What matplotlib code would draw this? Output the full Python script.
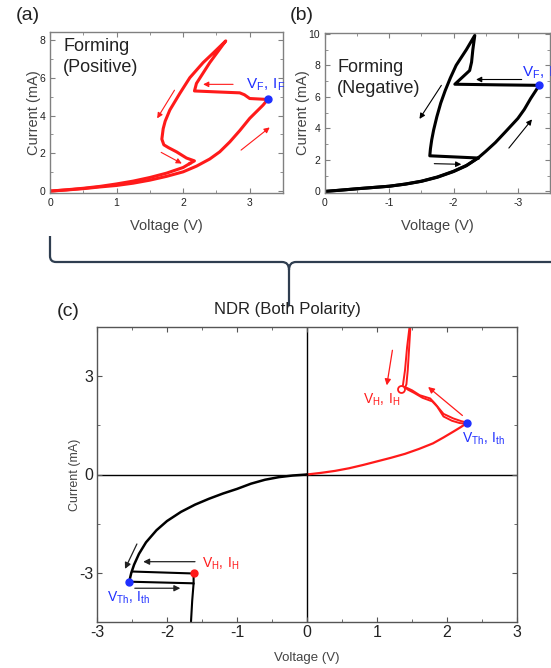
import matplotlib
matplotlib.use("Agg")
import matplotlib.pyplot as plt
from matplotlib.path import Path
from matplotlib.patches import PathPatch
from matplotlib.ticker import MultipleLocator

plt.rcParams['font.family'] = ['Liberation Sans', 'DejaVu Sans']
plt.rcParams['mathtext.fontset'] = 'custom'
plt.rcParams['mathtext.rm'] = 'Liberation Sans'
plt.rcParams['mathtext.it'] = 'Liberation Sans'
plt.rcParams['axes.unicode_minus'] = False

# ---------------- data: panel (a) Forming positive ----------------
a_fwd_v = [0, 0.25, 0.5, 0.75, 1.0, 1.25, 1.5, 1.75, 2.0, 2.2, 2.4, 2.55, 2.7, 2.85, 3.0, 3.1, 3.2, 3.27]
a_fwd_i = [0, 0.06, 0.13, 0.22, 0.3, 0.42, 0.58, 0.78, 1.02, 1.32, 1.7, 2.08, 2.6, 3.2, 3.85, 4.2, 4.55, 4.85]
a_snap_v = [3.27, 3.0, 2.92, 2.85, 2.5, 2.17, 2.2, 2.4, 2.64, 2.45, 2.3, 2.1, 1.95, 1.8, 1.73, 1.70, 1.68,
            1.71, 1.78, 1.90, 2.05, 2.17, 2.10]
a_snap_i = [4.85, 4.9, 5.1, 5.2, 5.25, 5.3, 5.7, 6.8, 7.95, 7.3, 6.8, 6.0, 5.17, 4.29, 3.7, 3.3, 2.75,
            2.45, 2.3, 2.08, 1.75, 1.6, 1.46]
a_ret_v = [2.10, 2.0, 1.75, 1.5, 1.25, 1.0, 0.75, 0.5, 0.25, 0]
a_ret_i = [1.46, 1.25, 0.95, 0.72, 0.53, 0.38, 0.25, 0.15, 0.07, 0]
a_arrows = [((1.87, 5.34), (1.61, 3.85)), ((1.67, 2.05), (1.98, 1.46)),
            ((2.87, 2.17), (3.30, 3.37)), ((2.75, 5.65), (2.30, 5.65))]
a_vf = (3.27, 4.85)

# ---------------- data: panel (b) Forming negative ----------------
b_fwd_v = [0, -0.25, -0.5, -0.75, -1.0, -1.25, -1.5, -1.75, -2.0, -2.2, -2.38, -2.5, -2.65, -2.8,
           -3.0, -3.1, -3.2, -3.28, -3.33]
b_fwd_i = [0, 0.08, 0.17, 0.25, 0.33, 0.47, 0.65, 0.92, 1.28, 1.65, 2.12, 2.54, 3.1, 3.75,
           4.63, 5.2, 5.9, 6.4, 6.73]
b_snap_v = [-3.33, -2.7, -2.02, -2.25, -2.28, -2.30, -2.33, -2.2, -2.04, -1.95, -1.87, -1.80, -1.74,
            -1.69, -1.66, -1.64, -1.63, -2.38]
b_snap_i = [6.73, 6.76, 6.8, 7.67, 8.2, 9.0, 9.9, 9.0, 8.0, 7.2, 6.4, 5.6, 4.74,
            3.9, 3.27, 2.7, 2.26, 2.12]
b_ret_v = [-2.38, -2.2, -2.0, -1.75, -1.5, -1.25, -1.0, -0.5, 0]
b_ret_i = [2.12, 1.63, 1.26, 0.9, 0.64, 0.46, 0.33, 0.17, 0]
b_arrows = [((-1.81, 6.73), (-1.47, 4.6)), ((-1.70, 1.76), (-2.12, 1.72)),
            ((-2.86, 2.75), (-3.22, 4.57)), ((-3.06, 7.1), (-2.35, 7.1))]
b_vf = (-3.33, 6.73)

# ---------------- data: panel (c) NDR ----------------
c_pos_fwd_v = [0, 0.2, 0.4, 0.6, 0.8, 1.0, 1.2, 1.4, 1.6, 1.8, 1.95, 2.1, 2.2, 2.29]
c_pos_fwd_i = [0, 0.05, 0.11, 0.19, 0.29, 0.4, 0.51, 0.63, 0.78, 0.95, 1.13, 1.32, 1.45, 1.58]
c_pos_ndr1_v = [2.29, 2.2, 2.09, 1.95, 1.83, 1.76, 1.61, 1.5, 1.40, 1.34, 1.37, 1.40, 1.43, 1.47]
c_pos_ndr1_i = [1.58, 1.63, 1.71, 1.85, 2.16, 2.32, 2.42, 2.57, 2.67, 2.62, 2.72, 3.18, 3.89, 4.6]
c_pos_ndr2_v = [2.27, 2.18, 2.07, 1.95, 1.86, 1.79, 1.65, 1.53, 1.44, 1.40, 1.42, 1.44, 1.46, 1.48]
c_pos_ndr2_i = [1.55, 1.57, 1.64, 1.77, 2.07, 2.23, 2.34, 2.49, 2.59, 2.66, 2.75, 3.2, 3.9, 4.6]
c_neg_fwd_v = [0, -0.2, -0.4, -0.6, -0.8, -1.0, -1.2, -1.4, -1.6, -1.8, -2.0, -2.15, -2.3, -2.4,
               -2.47, -2.51, -2.54]
c_neg_fwd_i = [0, -0.03, -0.08, -0.16, -0.28, -0.44, -0.58, -0.74, -0.92, -1.14, -1.42, -1.7, -2.07,
               -2.42, -2.75, -3.0, -3.27]
c_neg_snap_v = [-2.54, -1.62, -1.64, -1.66]
c_neg_snap_i = [-3.27, -3.32, -3.85, -4.6]
c_neg_hold_v = [-1.62, -1.62, -2.50]
c_neg_hold_i = [-3.32, -3.02, -2.96]
c_pos_vth = (2.29, 1.58)
c_pos_vh = (1.34, 2.62)
c_neg_vth = (-2.54, -3.27)
c_neg_vh = (-1.62, -3.02)
c_red_arrows = [((1.22, 3.79), (1.14, 2.72)), ((2.22, 1.80), (1.73, 2.67))]
c_blk_arrows = [((-2.43, -2.12), (-2.6, -2.88)), ((-1.60, -2.66), (-2.34, -2.66)),
                ((-2.46, -3.47), (-1.81, -3.47))]

RED = '#ff1a1a'
BLUE = '#1f2fff'
W, H = 551, 668

fig = plt.figure(figsize=(W / 100, H / 100), dpi=100)


def fax(left, top, right, bottom):
    return fig.add_axes([left / W, 1 - bottom / H, (right - left) / W, (bottom - top) / H])


def style(ax, spine_col, lab_size, pad=2.5):
    for s in ax.spines.values():
        s.set_color(spine_col)
        s.set_linewidth(1.0)
    ax.tick_params(which='both', direction='in', top=True, right=True, color=spine_col,
                   labelsize=lab_size, labelcolor='#222222', pad=pad)
    ax.tick_params(which='major', length=3.5)
    ax.tick_params(which='minor', length=2)


def arrows(ax, lst, col, lw=0.8, ms=8):
    for (s, e) in lst:
        ax.annotate('', xy=e, xytext=s,
                    arrowprops=dict(arrowstyle='-|>', color=col, lw=lw, mutation_scale=ms,
                                    shrinkA=0, shrinkB=0))


# ---------- panel (a) ----------
axa = fax(50, 32, 283, 193)
axa.plot(a_fwd_v, a_fwd_i, color=RED, lw=2.2)
axa.plot(a_snap_v, a_snap_i, color=RED, lw=2.2)
axa.plot(a_ret_v, a_ret_i, color=RED, lw=2.2)
axa.plot(*a_vf, 'o', color=BLUE, ms=5)
arrows(axa, a_arrows, RED)
axa.set_xlim(0, 3.5)
axa.set_ylim(-0.1, 8.42)
axa.xaxis.set_major_locator(MultipleLocator(1))
axa.xaxis.set_minor_locator(MultipleLocator(0.5))
axa.yaxis.set_major_locator(MultipleLocator(2))
axa.yaxis.set_minor_locator(MultipleLocator(1))
style(axa, '#808080', 7.5, pad=3.5)
axa.set_xlabel('Voltage (V)', fontsize=10.5, color='#444444', labelpad=8)
axa.set_ylabel('Current (mA)', fontsize=10.5, color='#444444', labelpad=-1)
axa.text(0.2, 8.1, 'Forming\n(Positive)', fontsize=13, va='top', ha='left', linespacing=1.3, color='#222222')
axa.text(2.95, 5.6, r'$\mathregular{V_F,\:I_F}$', fontsize=11, color=BLUE, va='center', ha='left')

# ---------- panel (b) ----------
axb = fax(325, 33, 550, 193)
axb.plot(b_fwd_v, b_fwd_i, color='black', lw=2.2)
axb.plot(b_snap_v, b_snap_i, color='black', lw=2.2)
axb.plot(b_ret_v, b_ret_i, color='black', lw=2.2)
axb.plot(*b_vf, 'o', color=BLUE, ms=5)
arrows(axb, b_arrows, 'black')
axb.set_xlim(0, -3.5)
axb.set_ylim(-0.1, 10.05)
axb.xaxis.set_major_locator(MultipleLocator(1))
axb.xaxis.set_minor_locator(MultipleLocator(0.5))
axb.yaxis.set_major_locator(MultipleLocator(2))
axb.yaxis.set_minor_locator(MultipleLocator(1))
style(axb, '#808080', 7.5, pad=3.5)
axb.set_xlabel('Voltage (V)', fontsize=10.5, color='#444444', labelpad=8)
axb.set_ylabel('Current (mA)', fontsize=10.5, color='#444444', labelpad=-1)
axb.text(-0.19, 8.4, 'Forming\n(Negative)', fontsize=13, va='top', ha='left', linespacing=1.3, color='#222222')
axb.text(-3.06, 7.55, r'$\mathregular{V_F,\:I_F}$', fontsize=11, color=BLUE, va='center', ha='left')

# ---------- panel (c) ----------
axc = fax(97, 327, 517, 622)
axc.axhline(0, color='black', lw=1.0, zorder=1)
axc.axvline(0, color='black', lw=1.0, zorder=1)
axc.plot(c_pos_fwd_v, c_pos_fwd_i, color=RED, lw=1.6)
axc.plot(c_pos_ndr1_v, c_pos_ndr1_i, color=RED, lw=1.4)
axc.plot(c_pos_ndr2_v, c_pos_ndr2_i, color=RED, lw=1.4)
axc.plot(c_neg_fwd_v, c_neg_fwd_i, color='black', lw=1.8)
axc.plot(c_neg_snap_v, c_neg_snap_i, color='black', lw=1.5)
axc.plot(c_neg_hold_v, c_neg_hold_i, color='black', lw=1.5)
axc.plot(*c_pos_vth, 'o', color=BLUE, ms=5)
axc.plot(*c_neg_vth, 'o', color=BLUE, ms=5)
axc.plot(*c_pos_vh, 'o', mfc='white', mec=RED, mew=1.3, ms=5)
axc.plot(*c_neg_vh, 'o', color=RED, ms=5)
arrows(axc, c_red_arrows, RED, lw=0.9, ms=9)
arrows(axc, c_blk_arrows, '#222222', lw=0.9, ms=9)
axc.set_xlim(-3, 3)
axc.set_ylim(-4.5, 4.5)
axc.xaxis.set_major_locator(MultipleLocator(1))
axc.xaxis.set_minor_locator(MultipleLocator(0.5))
axc.yaxis.set_major_locator(MultipleLocator(3))
axc.yaxis.set_minor_locator(MultipleLocator(1.5))
style(axc, '#555555', 11.5)
axc.set_xlabel('Voltage (V)', fontsize=9.5, color='#444444', labelpad=8)
axc.set_ylabel('Current (mA)', fontsize=9, color='#444444', labelpad=-1)
axc.text(0.8, 2.28, r'$\mathregular{V_H,\:I_H}$', fontsize=10, color=RED, va='center', ha='left')
axc.text(2.21, 1.09, r'$\mathregular{V_{Th},\:I_{th}}$', fontsize=10, color=BLUE, va='center', ha='left')
axc.text(-1.50, -2.73, r'$\mathregular{V_H,\:I_H}$', fontsize=10, color=RED, va='center', ha='left')
axc.text(-2.86, -3.75, r'$\mathregular{V_{Th},\:I_{th}}$', fontsize=10, color=BLUE, va='center', ha='left')

# ---------- labels & brace ----------
fig.text(28 / W, 1 - 15 / H, '(a)', fontsize=14, ha='center', va='center', color='#222222')
fig.text(302 / W, 1 - 15 / H, '(b)', fontsize=14, ha='center', va='center', color='#222222')
fig.text(68 / W, 1 - 312 / H, '(c)', fontsize=14, ha='center', va='center', color='#222222')
fig.text(287 / W, 1 - 310 / H, 'NDR (Both Polarity)', fontsize=12, ha='center', va='center', color='#222222')

bp = [(50, 236), (50, 256), (50, 262), (56, 262), (282, 262), (289, 262), (289, 270), (289, 306),
      (289, 270), (289, 262), (296, 262), (560, 262)]
codes = [Path.MOVETO, Path.LINETO, Path.CURVE3, Path.CURVE3, Path.LINETO, Path.CURVE3, Path.CURVE3,
         Path.LINETO, Path.MOVETO, Path.CURVE3, Path.CURVE3, Path.LINETO]
verts = [(x / W, 1 - y / H) for x, y in bp]
fig.patches.append(PathPatch(Path(verts, codes), transform=fig.transFigure, fill=False,
                             edgecolor='#2f3e50', lw=1.6))

fig.savefig('out.png', dpi=100)
